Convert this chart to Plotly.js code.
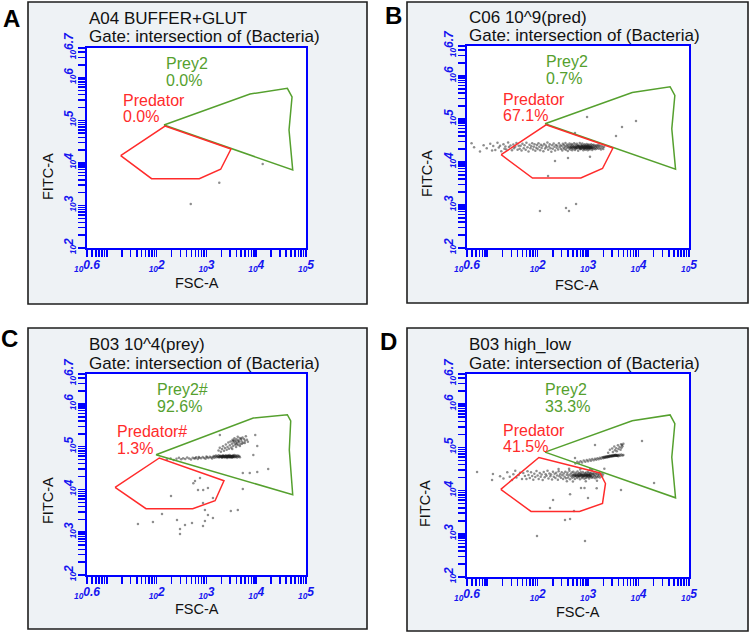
<!DOCTYPE html>
<html><head><meta charset="utf-8">
<script src="https://cdn.plot.ly/plotly-3.0.1.min.js"></script>
<style>html,body{margin:0;padding:0;background:#fff}#chart{width:750px;height:634px}</style>
</head><body><div id="chart"></div>
<script>
// ---------- DATA ----------
const panelLetters = ['A', 'B', 'C', 'D'];
const sampleNames = ['A04 BUFFER+GLUT', 'C06 10^9(pred)', 'B03 10^4(prey)', 'B03 high_low'];
const gateLine = 'Gate: intersection of (Bacteria)';
const preyNames = ['Prey2', 'Prey2', 'Prey2#', 'Prey2'];
const preyPct = ['0.0%', '0.7%', '92.6%', '33.3%'];
const predNames = ['Predator', 'Predator', 'Predator#', 'Predator'];
const predPct = ['0.0%', '67.1%', '1.3%', '41.5%'];
const xTitle = 'FSC-A';
const yTitle = 'FITC-A';
const xTickExp = ['0.6', '2', '3', '4', '5'];
const yTickExp = ['2', '3', '4', '5', '6', '6.7'];

// gates (FSC-A, FITC-A)
const predAB_x = [18.9, 147, 3110, 1930, 718, 79];
const predAB_y = [14800, 73600, 21200, 7080, 4250, 4250];
const preyABD_x = [140, 7500, 42200, 52400, 45600, 54100];
const preyABD_y = [77800, 416000, 566000, 354000, 59300, 6810];
const predC_x = [14.6, 113, 2250, 1490, 530, 61];
const predC_y = [11200, 54500, 16000, 5460, 3550, 3550];
const preyC_x = [96.8, 8730, 42200, 49300, 46200, 54100];
const preyC_y = [65000, 469000, 560000, 399000, 83800, 7540];
const predD_x = [18.6, 106, 1720, 2210, 1930, 676, 74];
const predD_y = [10700, 58500, 25600, 14600, 5040, 3290, 3290];

// events [FSC-A, FITC-A]
const eventsA = [[13500, 9420], [1810, 3430], [483, 1080]];

const eventsB = [
 [4.9,27300],[5.5,22000],[7.2,17500],[8.5,24500],[9.8,20900],[11.5,26800],[12.5,18500],[13.2,23500],[14.5,19000],[16,28000],
 [17,21800],[18,24000],[19,17800],[21,26000],[22,20500],[23,23000],[24,19600],[26,28500],[27,22500],[29,24200],
 [31,18800],[33,25500],[34,21000],[36,22600],[38,27800],[40,19200],[42,24000],[44,20300],
 [46,23800],[48,18500],[50,26800],[53,21000],[55,24500],[58,19200],[60,28000],[63,22000],[66,17600],[69,25300],
 [72,20800],[75,23400],[78,27200],[81,19600],[84,22600],[87,25800],[90,18200],[94,21500],[97,24800],[100,20000],
 [104,27500],[108,22800],[112,18900],[116,25100],[120,21300],[125,23900],[130,17800],[135,26300],[140,20600],[145,24200],
 [150,22000],[156,28600],[162,19300],[168,23100],[174,25900],[180,21000],[187,17300],[194,24500],[200,20300],[208,26900],
 [215,22600],[222,18600],[230,25000],[238,21500],[246,23800],[255,19700],[264,27300],[273,22200],[282,24700],[291,20100],
 [300,23500],[308,18600],[316,26500],[324,21400],[332,24800],[340,20100],[348,22700],[356,27800],[364,19300],[372,23900],
 [380,21600],[388,25700],[396,18100],[404,22500],[412,24200],[420,20700],[428,27000],[436,22000],[444,19600],[452,24900],
 [460,21200],[468,23300],[476,26200],[484,18900],[492,22200],[500,24500],[510,20400],[520,23100],[530,27300],[540,21700],
 [550,19000],[560,25400],[570,22400],[580,20600],[590,23800],[600,26600],[612,21000],[624,22900],[636,18400],[648,24600],
 [660,20900],[672,23400],[684,27700],[696,21900],[708,19800],[720,25100],[732,22300],[744,20300],[756,24000],[768,26900],
 [780,21300],[792,23000],[804,18700],[816,24700],[828,22000],[840,20500],[852,25900],[864,23200],[876,21100],[888,19400],
 [900,24300],[914,22600],[928,20700],[942,26300],[956,23500],[970,21400],[984,18900],[998,24800],[1012,22100],[1026,20200],
 [1040,25600],[1055,23000],[1070,21600],[1085,19500],[1100,24100],[1118,22400],[1136,20900],[1154,26000],[1172,23300],[1190,21200],
 [1210,19100],[1230,24500],[1250,22000],[1270,20400],[1290,25300],[1315,22800],[1340,21000],[1365,23900],[1390,19800],[1420,22500],
 [1450,24600],[1480,20600],[1510,23200],[1545,21700],[1580,25200],[1620,20300],[1660,22900],[1700,24300],[1750,21300],[1800,19700],
 [1860,23500],[1930,21800],[2000,20200],[2080,22700],
 [455,22100],[485,21300],[515,22800],[545,21900],[575,22500],[605,21600],[635,23100],[665,22000],[695,21200],[725,22700],
 [755,21500],[785,22300],[815,21100],[845,22900],[875,21800],[905,22400],[935,21300],[965,22700],[995,21700],[1025,22200],
 [1060,21400],[1095,22800],[1130,21900],[1165,22500],[1200,21200],[560,20800],[620,24000],[700,20500],[760,23500],[830,20700],
 [890,23600],[950,20600],[1010,23400],[1080,20900],[680,22600],[720,21800],[800,22600],[860,21600],[920,22100],[980,22900],
 [1040,21700],[1110,22200],
 [953,112000],[4700,65300],[3570,40400],[8910,90200],[551,47400],[221,10600],[161,4730],[365,853],[419,726],[577,1060],
 [111,726],[1090,13300],[400,12400]
];

const eventsC = [
 [1350,57500],[1400,60500],[1450,55000],[1500,59000],[1550,62500],[1600,56500],[1650,60000],[1700,57800],[1750,63500],[1800,55800],
 [1850,59300],[1900,61800],[1950,57200],[2000,60400],[2050,54800],[2100,58600],[2150,62800],[2200,56900],[2250,59800],[2300,61000],
 [2350,55600],[2400,58200],[2450,63200],[2500,57400],[2550,60100],[2600,54500],[2650,59000],[2700,62200],[2750,56700],[2800,60600],
 [2850,58400],[2900,64000],[2950,55900],[3000,59500],[3060,61600],[3120,57100],[3180,60200],[3240,55400],[3300,58700],[3360,62600],
 [3420,56800],[3480,60900],[3550,58000],[3620,63700],[3700,56300],[3780,59700],[3860,61900],[3950,57600],[4050,60300],[4150,55800],
 [4250,62100],[4400,58300],[4550,60700],[4700,57000],
 [1800,58500],[1900,59200],[2000,58000],[2100,59800],[2200,58600],[2300,59400],[2400,58900],[2500,59700],[2600,58300],[2700,59500],
 [2800,58800],[2900,59900],[3000,58400],[3100,59300],[3200,58700],[3300,59600],[3400,58100],[3500,59100],[2150,60200],[2450,57900],
 [2750,60000],[3050,57800],[3350,60300],[2050,57300],[2650,60900],
 [160,50500],[190,53000],[220,49000],[250,52500],[280,55000],[310,50800],[340,54000],[375,51500],[410,56000],[450,52800],
 [490,50000],[530,55500],[570,53000],[620,57000],[670,51800],[720,55300],[780,53500],[840,57800],[900,54600],[960,52300],
 [1030,56800],[1100,54200],[1170,58500],[1240,55700],[1300,53300],[700,57600],[1000,59000],[600,54000],
 [1750,82000],[1850,95000],[1950,76000],[2050,88000],[2150,102000],[2250,80000],[2350,93000],[2450,112000],[2550,85000],[2650,99000],
 [2750,125000],[2850,90000],[2950,108000],[3050,133000],[3150,96000],[3250,117000],[3350,145000],[3450,104000],[3550,126000],[3650,158000],
 [3750,112000],[3850,138000],[3950,98000],[4050,150000],[4150,121000],[4250,170000],[4350,109000],[4450,142000],[4550,128000],[4650,160000],
 [4800,116000],[4950,148000],[5100,132000],[5300,165000],[5500,124000],[5700,152000],[5950,138000],[6200,175000],[6500,145000],[6800,130000],
 [3300,88000],[3900,126000],[4300,135000],[4700,104000],[5200,118000],[3600,140000],[4000,112000],[5000,155000],
 [1860,188000],[3390,136000],[5890,122000],[9550,188000],[10500,104000],[8730,64100],[7410,24300],[5370,24300],[10500,25600],[17400,30100],
 [5370,10300],[741,18500],[589,15800],[545,14000],[194,7030],[1070,10800],[860,9700],[676,9710],[1350,6310],[933,3310],
 [1070,2530],[933,1830],[851,1400],[513,1640],[371,1480],[294,1190],[256,1930],[294,910],[128,2670],[84,1730],
 [42,1560],[3090,3130],[4270,3310],[1350,2150],[851,4820]
];

const eventsD = [
 [6.3,27000],[13,24200],[12.5,17600],[18,21500],[21,19000],[25,26500],[28,21000],[31,17500],[33,24000],[36,29000],
 [38,20000],[42,23000],[45,26000],[49,18600],[52,25500],[56,21800],[60,18600],[63,28000],
 [66,23000],[70,19600],[74,26500],[78,21800],[82,17800],[86,24600],[90,20600],[95,28300],[100,22400],[105,18700],
 [110,25500],[115,21000],[120,23700],[126,17500],[132,27000],[138,20300],[144,24000],[150,22000],[157,29000],[164,19000],
 [171,25000],[178,21500],[185,23500],[193,18000],[201,27500],[209,21000],[217,24500],[225,19500],[234,26000],[243,22500],
 [252,17800],[261,28000],[270,21400],[280,24000],[290,19800],[300,26800],[310,22600],[320,18500],
 [330,24800],[342,21000],[354,27500],[366,19300],[378,23400],[390,25800],[402,20200],[414,22800],[426,29000],[438,18400],
 [450,24100],[462,21600],[474,26400],[486,19800],[498,23000],[510,27200],[522,20900],[534,24500],[546,18700],[558,22400],
 [570,25900],[582,21200],[594,23700],[606,19500],[618,27800],[630,22000],[642,24700],[654,20400],[666,25300],[678,21700],
 [690,18400],[702,23600],[716,26500],[730,21100],[744,24000],[758,19700],[772,22800],[786,27000],[800,20700],[815,24300],
 [830,22200],[845,18900],[860,25700],[875,21400],[890,23300],[905,19600],[920,26100],[935,22100],[950,24400],[966,20300],
 [982,23100],[998,27200],[1014,21000],[1030,24800],[1048,19200],[1066,22700],[1084,25600],[1102,20600],[1120,23600],[1140,21500],
 [1160,26000],[1180,19800],[1200,23900],[1225,21300],[1250,24700],[1275,20100],[1300,22900],[1330,25700],[1360,21800],[1390,19400],
 [1420,23800],[1455,21100],[1490,25200],[1530,20500],[1570,23200],[1610,21600],[1660,24400],[1710,20000],[1770,22600],[1830,25000],
 [1900,21200],[1980,23500],
 [500,22500],[540,22900],[580,22300],[620,23100],[660,22200],[700,22800],[740,22000],[780,23000],[820,22400],[860,22700],
 [900,22100],[940,22900],[980,22300],[1020,22600],[1060,21900],[1100,22700],[560,21700],[640,21800],[720,23500],[800,21600],
 [880,23400],[960,21700],[1040,23300],[1120,22000],
 [420,32000],[700,31000],[1200,30000],[260,31500],[900,16500],[1500,17000],[500,16200],[380,16500],[1100,31500],
 [560,42500],[610,46500],[660,44000],[710,48000],[760,45000],[820,49500],[880,46800],[940,51000],[1000,47800],[1070,52500],
 [1140,49000],[1210,53800],[1290,50500],[1370,55000],[1450,52000],[1530,56500],[1620,53200],[1710,58000],[1800,54800],[1900,59300],
 [2000,56300],[2100,61000],[2200,57400],[2300,62500],[2400,58800],[2500,63500],[2600,60000],[2720,65000],[2850,61300],[2980,66000],
 [3100,62200],[3230,67000],[3370,63000],[3500,68000],[3650,64000],[3800,66500],[3960,62800],[4150,67500],[4350,64300],[4550,68500],
 [4800,65000],[5000,66500],
 [2000,59000],[2200,60300],[2400,61000],[2600,61800],[2800,62600],[3000,63500],[3200,64000],[3400,64600],[3600,65200],[3800,65000],
 [2100,58800],[2500,61500],[2900,63000],[3300,64800],[3700,64500],[4000,65300],[2300,59800],[2700,62800],[3100,63200],[3500,65800],
 [2700,88000],[3000,95000],[3300,105000],[3600,96000],[3900,112000],[4200,102000],[4500,118000],[4800,106000],[5000,122000],[3100,78000],
 [3700,82000],[4400,88000],[2500,75000],[4000,92000],[4600,98000],[3400,86000],
 [202,6070],[176,3960],[349,2090],[439,2200],[97,889],[869,682],[526,3370],[996,6750],[724,11500],[4490,10300],
 [20300,15000],[11700,141000],[4700,114000],[1370,114000],[551,56900],[439,8200],[1480,11300],[850,11500],[2100,32000]
];

// ---------- LAYOUT HELPERS ----------
const W = 750, H = 634;
const PX = p => p / W;
const PY = p => 1 - p / H;

// plot areas in pixels [left, right, top, bottom]
const plotBoxes = [[87, 306, 48, 248], [467, 689, 46, 248], [87, 306, 374, 575], [467, 689, 374, 577]];
// panel frames [left, top, right, bottom]
const frames = [[28, 2, 367, 304], [407, 2, 748, 303], [28, 328, 367, 629], [407, 328, 748, 631]];

const blue = '#0000ff';
const FAM = 'Liberation Sans, Arial, sans-serif';
const tickFont = {family: FAM, size: 12, color: '#1414f0', weight: 'bold', style: 'italic'};

function minorVals(lo, hi) {
  const v = [];
  for (let k = lo; k <= hi; k++) for (let m = 1; m <= 9; m++) v.push(m * Math.pow(10, k));
  return v;
}
const xMinor = minorVals(0, 4).filter(v => v > 4.1 && v < 99000);
const yMinor = minorVals(2, 6).filter(v => v > 101 && v < 5.0e6);

function axisBase(range, exps, minor, dom) {
  return {
    domain: dom, type: 'log', range: range, showline: true, linecolor: blue, linewidth: 2,
    mirror: true, showgrid: false, zeroline: false, ticks: 'outside', ticklen: 7, tickwidth: 1.5,
    tickcolor: blue, tickmode: 'array', tickvals: exps.map(e => Math.pow(10, parseFloat(e))),
    ticktext: exps.map(e => '<sub>10</sub>' + e), tickfont: tickFont, fixedrange: true,
    minor: {tickmode: 'array', tickvals: minor, ticks: 'outside', ticklen: 7, tickwidth: 1.5, tickcolor: blue, showgrid: false}
  };
}

const layout = {
  width: W, height: H, margin: {l: 0, r: 0, t: 0, b: 0},
  paper_bgcolor: '#ffffff', plot_bgcolor: 'rgba(0,0,0,0)', showlegend: false,
  shapes: [], annotations: []
};

const data = [];
const gates = [
  [predAB_x, predAB_y, preyABD_x, preyABD_y],
  [predAB_x, predAB_y, preyABD_x, preyABD_y],
  [predC_x, predC_y, preyC_x, preyC_y],
  [predD_x, predD_y, preyABD_x, preyABD_y]
];
const events = [eventsA, eventsB, eventsC, eventsD];
const red = '#ff2b2b', green = '#55a02e';

function ann(text, px, py, o) {
  layout.annotations.push(Object.assign({
    text: text, x: PX(px), y: PY(py), xref: 'paper', yref: 'paper', showarrow: false,
    xanchor: 'left', yanchor: 'middle',
    font: {family: FAM, size: 17, color: '#111'}
  }, o || {}));
}

// label positions [titleY1, titleY2, preyX, preyY1, preyY2, predX, predY1, predY2, fscX, fscY, fitcX, fitcY, letterX, letterY]
const labelPos = [
  [18, 37, 164, 63, 80, 121, 100, 117, 197, 283, 48, 177, 11, 18],
  [17, 36, 544, 61.5, 78.5, 501, 99, 116, 577, 285, 427, 174, 393, 16],
  [345, 363, 155, 389, 406, 115, 431.5, 448.5, 197, 609, 48, 501, 9, 338],
  [344, 363, 543, 389, 406, 501, 430, 447, 578, 612, 425, 504, 388, 341]
];

for (let i = 0; i < 4; i++) {
  const s = i === 0 ? '' : String(i + 1);
  const [l, r, t, b] = plotBoxes[i];
  const f = frames[i];
  layout['xaxis' + s] = Object.assign(axisBase([0.6, 5], xTickExp, xMinor, [PX(l), PX(r)]), {anchor: 'y' + s, ticklabelstandoff: -2});
  layout['yaxis' + s] = Object.assign(axisBase([2, 6.7], yTickExp, yMinor, [PY(b), PY(t)]), {anchor: 'x' + s, tickangle: -90});

  layout.shapes.push({type: 'rect', xref: 'paper', yref: 'paper', layer: 'below',
    x0: PX(f[0]), x1: PX(f[2]), y0: PY(f[3]), y1: PY(f[1]),
    fillcolor: '#eef2f5', line: {color: '#1e1e1e', width: 1.6}});
  layout.shapes.push({type: 'rect', xref: 'paper', yref: 'paper', layer: 'below',
    x0: PX(l), x1: PX(r), y0: PY(b), y1: PY(t), fillcolor: '#ffffff', line: {width: 0}});

  const ev = events[i];
  data.push({type: 'scatter', mode: 'markers', xaxis: 'x' + s, yaxis: 'y' + s,
    x: ev.map(p => p[0]), y: ev.map(p => p[1]),
    marker: {size: 2.5, color: 'rgba(30,30,30,0.5)', line: {width: 0}}, hoverinfo: 'skip'});
  const g = gates[i];
  data.push({type: 'scatter', mode: 'lines', xaxis: 'x' + s, yaxis: 'y' + s,
    x: g[2].concat([g[2][0]]), y: g[3].concat([g[3][0]]),
    line: {color: green, width: 1.5}, hoverinfo: 'skip'});
  data.push({type: 'scatter', mode: 'lines', xaxis: 'x' + s, yaxis: 'y' + s,
    x: g[0].concat([g[0][0]]), y: g[1].concat([g[1][0]]),
    line: {color: red, width: 1.5}, hoverinfo: 'skip'});

  const p = labelPos[i];
  const gf = c => ({font: {family: FAM, size: 16, color: c}});
  ann(sampleNames[i], l, p[0]);
  ann(gateLine, l, p[1]);
  ann(preyNames[i], p[2], p[3], gf(green));
  ann(preyPct[i], p[2], p[4], gf(green));
  ann(predNames[i], p[5], p[6], gf(red));
  ann(predPct[i], p[5], p[7], gf(red));
  ann(xTitle, p[8], p[9], {xanchor: 'center', font: {family: FAM, size: 14.5, color: '#111'}});
  ann(yTitle, p[10], p[11], {xanchor: 'center', textangle: -90, font: {family: FAM, size: 14.5, color: '#111'}});
  ann(panelLetters[i], p[12], p[13], {xanchor: 'center', font: {family: FAM, size: 24, color: '#000', weight: 'bold'}});
}

Plotly.newPlot('chart', data, layout, {staticPlot: true});
</script>
</body></html>
